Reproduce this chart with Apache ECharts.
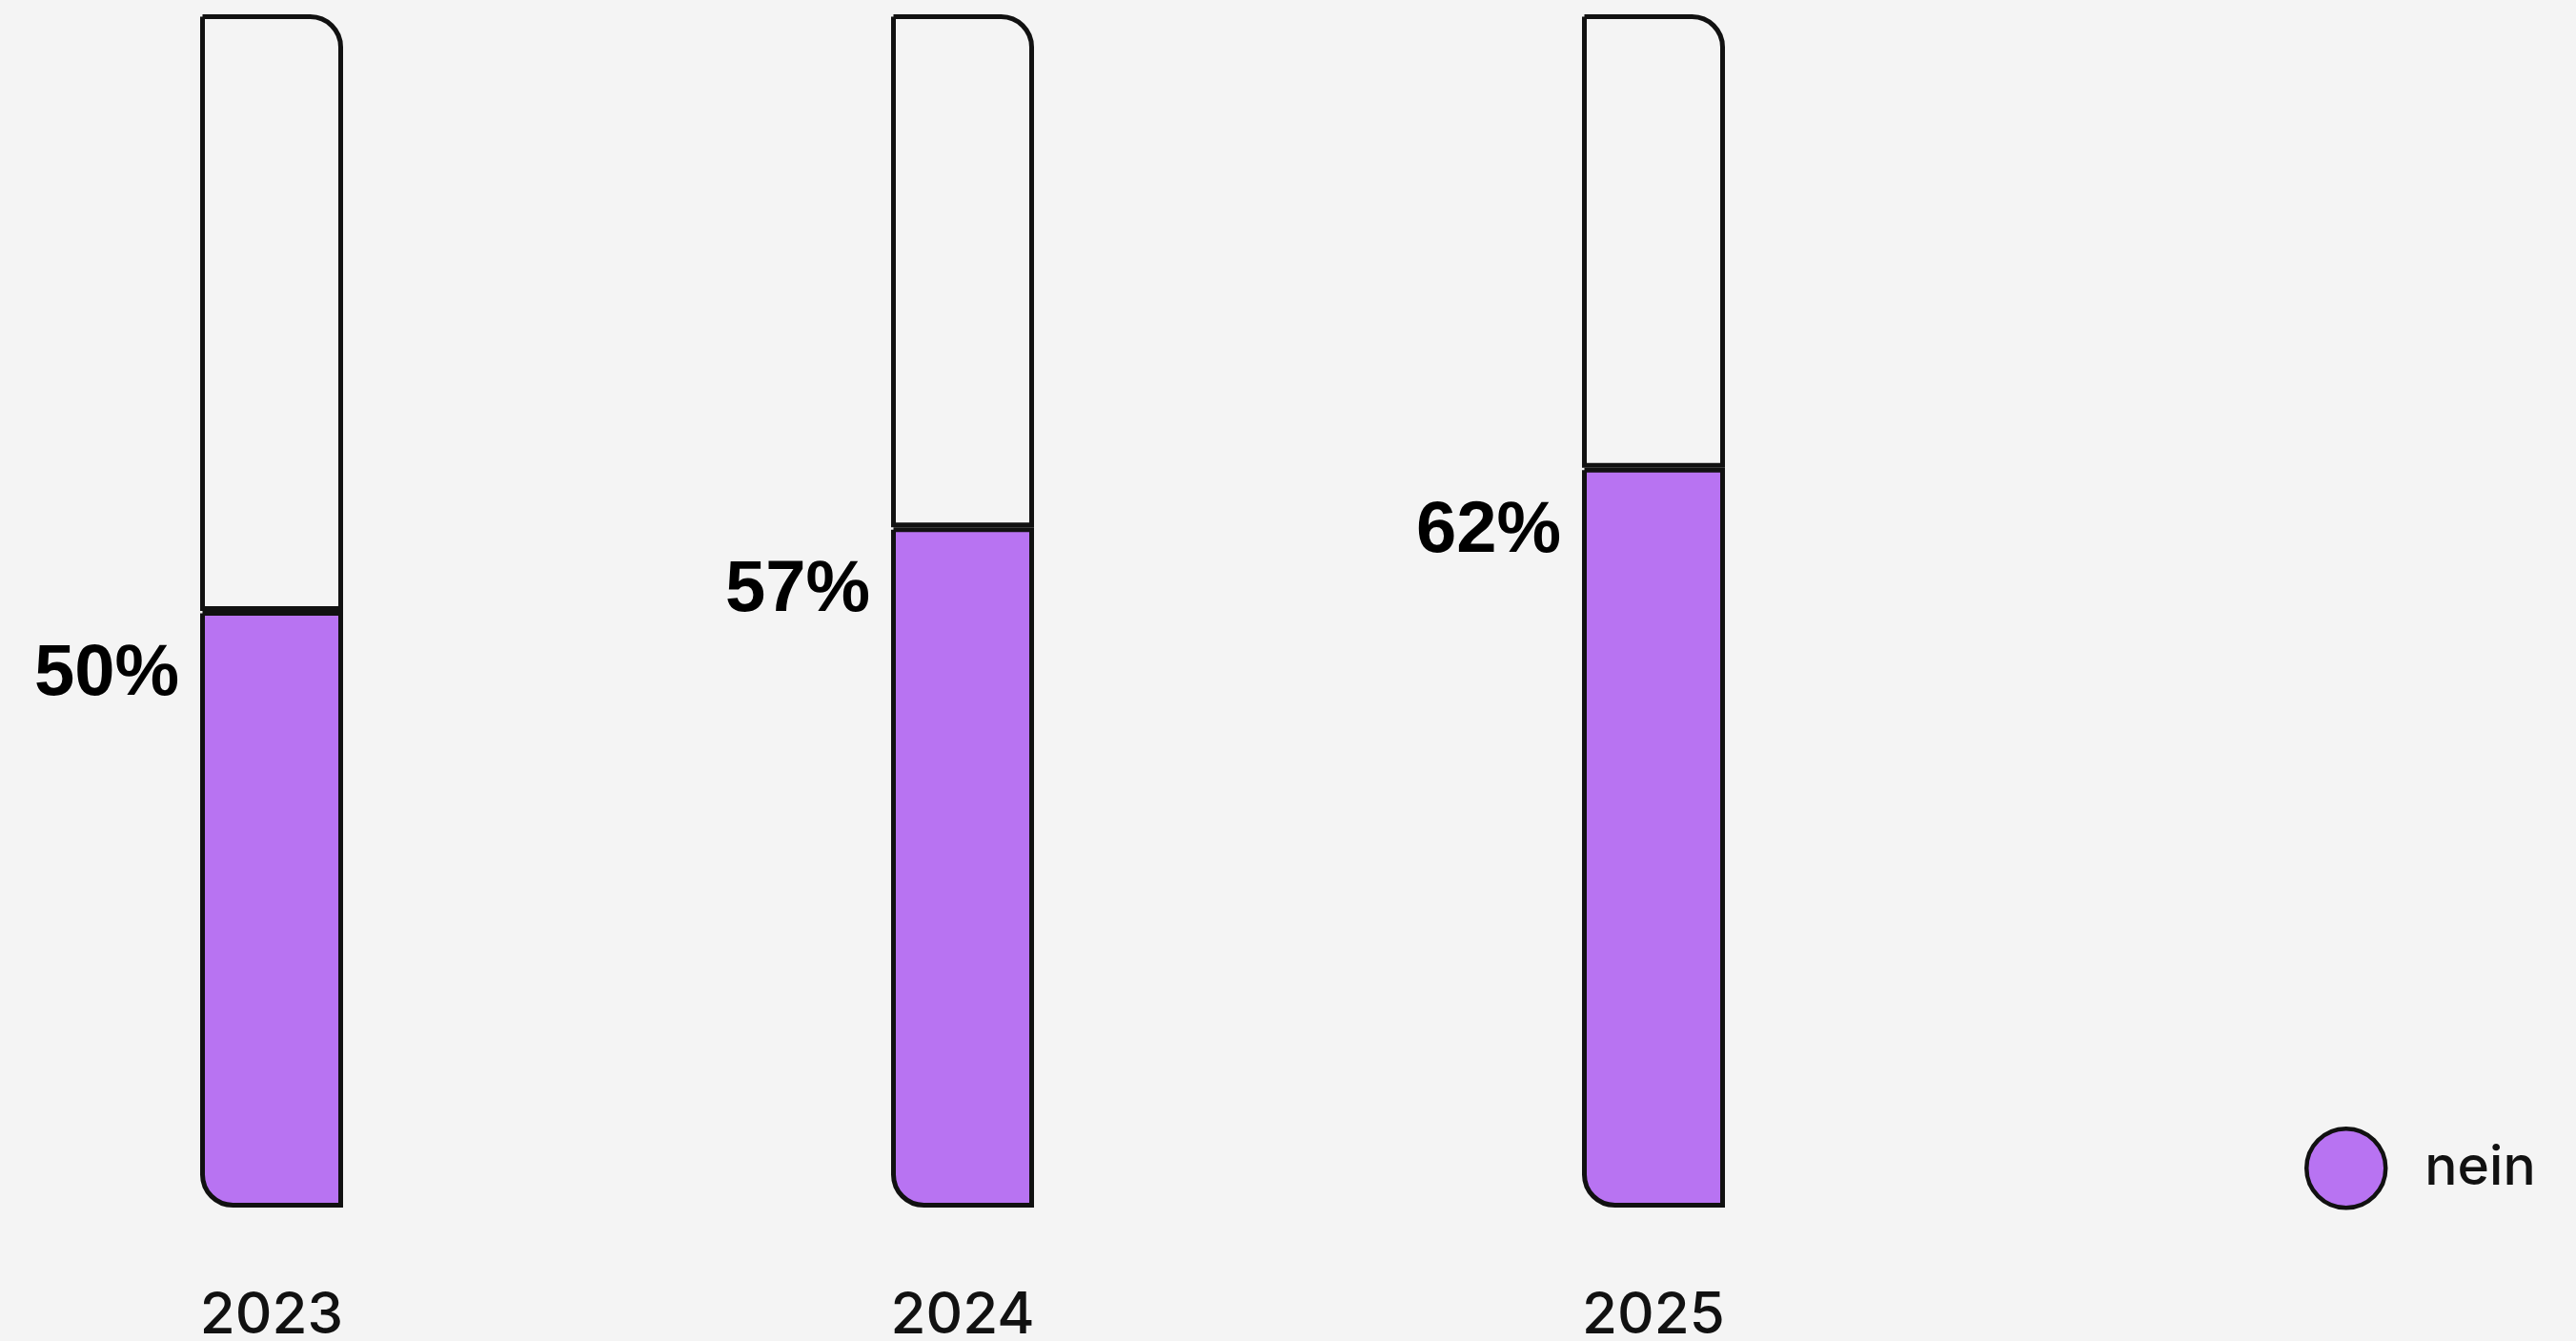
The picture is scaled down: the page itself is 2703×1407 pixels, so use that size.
<!DOCTYPE html>
<html lang="de">

<head>
    <meta charset="UTF-8">
    <title>nein</title>
    <script src="https://cdn.jsdelivr.net/npm/echarts@6.0.0/dist/echarts.min.js"></script>
    <style>
        html, body { margin: 0; padding: 0; background: #f4f4f4; }
    </style>
</head>

<body>
    <div id="echart" style="width: 2703px; height: 1407px;"></div>
</body>

<script>
    // Daten
    const years = ['2023', '2024', '2025'];
    const neinValues = [50, 57, 62];
    const restValues = [50, 43, 38];

    const purple = '#b873f2';
    const stroke = '#111111';

    var myChart = echarts.init(document.getElementById('echart'));

    myChart.setOption({
        backgroundColor: '#f4f4f4',
        textStyle: { fontFamily: 'Inter' },
        animation: false,
        legend: {
            data: ['nein'],
            left: 2413,
            top: 1177,
            icon: 'circle',
            itemWidth: 83,
            itemHeight: 83,
            itemStyle: { borderColor: stroke, borderWidth: 4.5 },
            textStyle: {
                fontSize: 57,
                fontWeight: 500,
                color: '#111',
                padding: [0, 0, 0, 36]
            }
        },
        grid: {
            left: 285,
            right: 968,
            top: 15,
            bottom: 140,
            outerBoundsMode: 'none'   // Jahreszahlen dürfen unten anschneiden
        },
        xAxis: {
            type: 'category',
            data: years,
            boundaryGap: false,
            axisLine: { show: false },
            axisTick: { show: false },
            axisLabel: {
                fontSize: 60,
                fontWeight: 500,
                color: '#111',
                margin: 84
            }
        },
        yAxis: {
            type: 'value',
            min: 0,
            max: 100,
            show: false,
            splitLine: { show: false }
        },
        series: [
            {
                name: 'nein',
                type: 'bar',
                stack: 'total',
                barWidth: 150,
                data: neinValues,
                itemStyle: {
                    color: purple,
                    borderColor: stroke,
                    borderWidth: 5,
                    borderRadius: [0, 0, 0, 32]
                },
                label: {
                    show: true,
                    position: [-22, 67],
                    align: 'right',
                    verticalAlign: 'middle',
                    formatter: '{c}%',
                    fontFamily: 'Liberation Sans',
                    fontSize: 76,
                    fontWeight: 'bold',
                    color: '#000'
                }
            },
            {
                name: 'rest',
                type: 'bar',
                stack: 'total',
                barWidth: 150,
                data: restValues,
                itemStyle: {
                    color: '#f4f4f4',
                    borderColor: stroke,
                    borderWidth: 5,
                    borderRadius: [0, 32, 0, 0]
                },
                label: { show: false }
            }
        ]
    });
</script>

</html>
